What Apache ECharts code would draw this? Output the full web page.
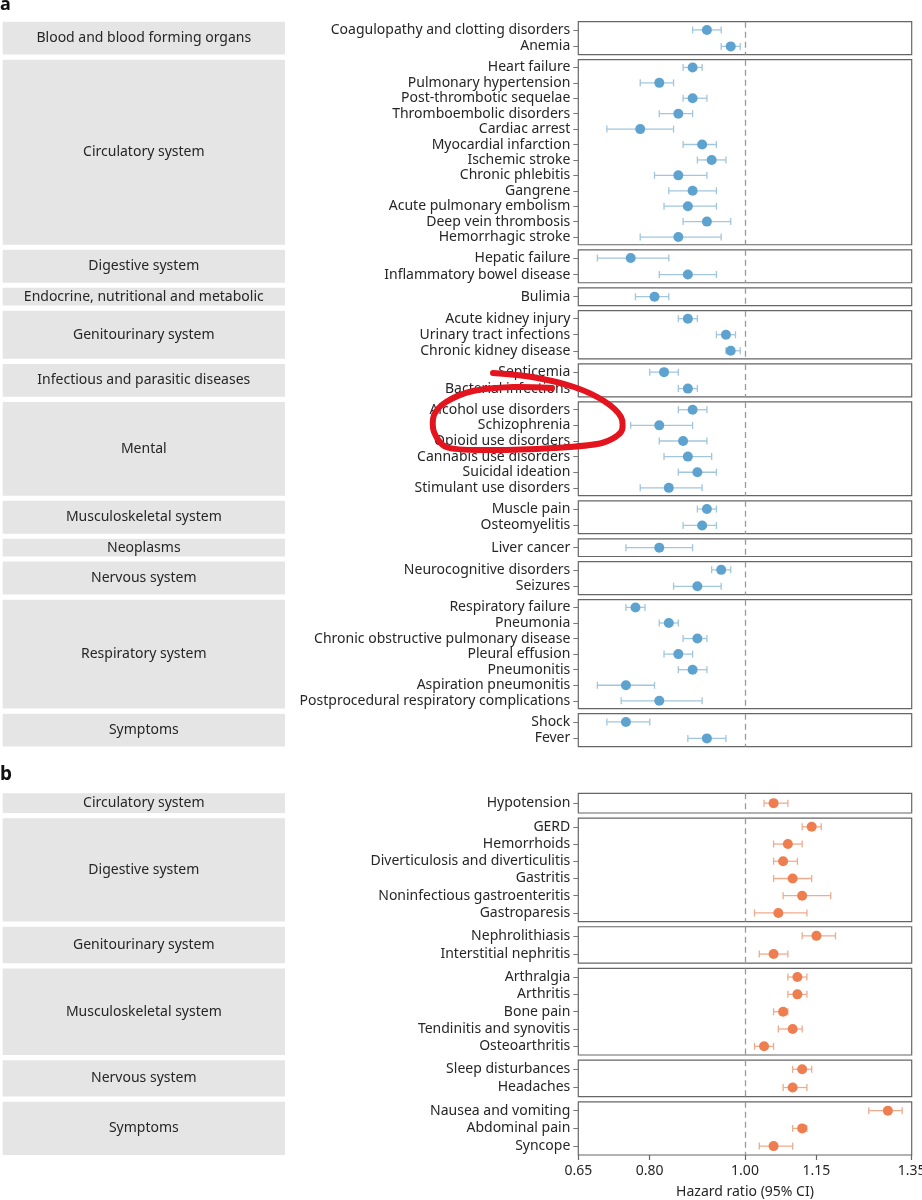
<!DOCTYPE html>
<html>
<head>
<meta charset="utf-8">
<script src="https://cdn.jsdelivr.net/npm/echarts@6/dist/echarts.min.js"></script>
<style>
  html, body { margin: 0; padding: 0; background: #fff; }
  #chart { width: 922px; height: 1200px; }
</style>
</head>
<body>
<div id="chart"></div>
<script>
// x axis
var xMin = 0.65, xMax = 1.35;
var xTicks = [0.65, 0.80, 1.00, 1.15, 1.35];

// panel a
var groupsA = ['Blood and blood forming organs', 'Circulatory system', 'Digestive system',
	'Endocrine, nutritional and metabolic', 'Genitourinary system', 'Infectious and parasitic diseases',
	'Mental', 'Musculoskeletal system', 'Neoplasms', 'Nervous system', 'Respiratory system', 'Symptoms'];
var sizesA = [2, 12, 2, 1, 3, 2, 6, 2, 1, 2, 7, 2];
var labelsA = ['Coagulopathy and clotting disorders', 'Anemia',
	'Heart failure', 'Pulmonary hypertension', 'Post-thrombotic sequelae', 'Thromboembolic disorders',
	'Cardiac arrest', 'Myocardial infarction', 'Ischemic stroke', 'Chronic phlebitis', 'Gangrene',
	'Acute pulmonary embolism', 'Deep vein thrombosis', 'Hemorrhagic stroke',
	'Hepatic failure', 'Inflammatory bowel disease',
	'Bulimia',
	'Acute kidney injury', 'Urinary tract infections', 'Chronic kidney disease',
	'Septicemia', 'Bacterial infections',
	'Alcohol use disorders', 'Schizophrenia', 'Opioid use disorders', 'Cannabis use disorders',
	'Suicidal ideation', 'Stimulant use disorders',
	'Muscle pain', 'Osteomyelitis',
	'Liver cancer',
	'Neurocognitive disorders', 'Seizures',
	'Respiratory failure', 'Pneumonia', 'Chronic obstructive pulmonary disease', 'Pleural effusion',
	'Pneumonitis', 'Aspiration pneumonitis', 'Postprocedural respiratory complications',
	'Shock', 'Fever'];
var hrA = [0.92, 0.97,
	0.89, 0.82, 0.89, 0.86, 0.78, 0.91, 0.93, 0.86, 0.89, 0.88, 0.92, 0.86,
	0.76, 0.88,
	0.81,
	0.88, 0.96, 0.97,
	0.83, 0.88,
	0.89, 0.82, 0.87, 0.88, 0.90, 0.84,
	0.92, 0.91,
	0.82,
	0.95, 0.90,
	0.77, 0.84, 0.90, 0.86, 0.89, 0.75, 0.82,
	0.75, 0.92];
var lowA = [0.89, 0.95,
	0.87, 0.78, 0.87, 0.82, 0.71, 0.87, 0.90, 0.81, 0.84, 0.83, 0.87, 0.78,
	0.69, 0.82,
	0.77,
	0.86, 0.94, 0.96,
	0.80, 0.86,
	0.86, 0.76, 0.82, 0.83, 0.86, 0.78,
	0.90, 0.87,
	0.75,
	0.93, 0.85,
	0.75, 0.82, 0.87, 0.83, 0.86, 0.69, 0.74,
	0.71, 0.88];
var highA = [0.95, 0.99,
	0.91, 0.85, 0.92, 0.89, 0.85, 0.94, 0.96, 0.92, 0.94, 0.94, 0.97, 0.95,
	0.84, 0.94,
	0.84,
	0.90, 0.98, 0.99,
	0.86, 0.90,
	0.92, 0.89, 0.92, 0.93, 0.94, 0.91,
	0.94, 0.94,
	0.89,
	0.97, 0.95,
	0.79, 0.86, 0.92, 0.89, 0.92, 0.81, 0.91,
	0.80, 0.96];

// panel b
var groupsB = ['Circulatory system', 'Digestive system', 'Genitourinary system',
	'Musculoskeletal system', 'Nervous system', 'Symptoms'];
var sizesB = [1, 6, 2, 5, 2, 3];
var labelsB = ['Hypotension',
	'GERD', 'Hemorrhoids', 'Diverticulosis and diverticulitis', 'Gastritis',
	'Noninfectious gastroenteritis', 'Gastroparesis',
	'Nephrolithiasis', 'Interstitial nephritis',
	'Arthralgia', 'Arthritis', 'Bone pain', 'Tendinitis and synovitis', 'Osteoarthritis',
	'Sleep disturbances', 'Headaches',
	'Nausea and vomiting', 'Abdominal pain', 'Syncope'];
var hrB = [1.06,
	1.14, 1.09, 1.08, 1.10, 1.12, 1.07,
	1.15, 1.06,
	1.11, 1.11, 1.08, 1.10, 1.04,
	1.12, 1.10,
	1.30, 1.12, 1.06];
var lowB = [1.04,
	1.12, 1.06, 1.06, 1.06, 1.08, 1.02,
	1.12, 1.03,
	1.09, 1.09, 1.06, 1.07, 1.02,
	1.10, 1.08,
	1.26, 1.10, 1.03];
var highB = [1.09,
	1.16, 1.12, 1.11, 1.14, 1.18, 1.13,
	1.19, 1.09,
	1.13, 1.13, 1.09, 1.12, 1.06,
	1.14, 1.13,
	1.33, 1.13, 1.10];

var FONT = '"Noto Sans", Roboto, sans-serif';
var chart = echarts.init(document.getElementById('chart'));

var grids = [], xAxes = [], yAxes = [], series = [], graphics = [];

function addPanel(groups, sizes, labels, hr, low, high, top0, rowH, pad, gap, dotColor, barColor) {
	var top = top0, start = 0;
	for (var g = 0; g < groups.length; g++) {
		var n = sizes[g];
		var h = n * rowH + pad;
		var gi = grids.length;
		grids.push({
			left: 578.3, width: 333.4, top: top, height: h,
			outerBoundsMode: 'none', containLabel: false,
			show: true, borderColor: '#666', borderWidth: 1.2, backgroundColor: 'transparent'
		});
		xAxes.push({
			type: 'value', gridIndex: gi, min: xMin, max: xMax,
			axisLine: {show: false}, axisTick: {show: false}, axisLabel: {show: false},
			splitLine: {show: false}
		});
		yAxes.push({
			type: 'category', gridIndex: gi, inverse: true,
			data: labels.slice(start, start + n),
			axisLine: {show: false},
			axisTick: {show: true, alignWithLabel: true, length: 5, lineStyle: {color: '#777', width: 1}},
			axisLabel: {interval: 0, fontSize: 14, color: '#262626', margin: 8, fontFamily: FONT},
			splitLine: {show: false}
		});
		var bars = [], dots = [];
		for (var i = 0; i < n; i++) {
			bars.push([low[start + i], i, high[start + i]]);
			dots.push([hr[start + i], i]);
		}
		series.push({
			type: 'custom', xAxisIndex: gi, yAxisIndex: gi, silent: true,
			encode: {x: [0, 2], y: 1},
			data: bars,
			renderItem: (function (color) {
				return function (params, api) {
					var a = api.coord([api.value(0), api.value(1)]);
					var b = api.coord([api.value(2), api.value(1)]);
					var cap = 3.5;
					var st = {stroke: color, lineWidth: 1.3};
					return {
						type: 'group', children: [
							{type: 'line', shape: {x1: a[0], y1: a[1], x2: b[0], y2: b[1]}, style: st},
							{type: 'line', shape: {x1: a[0], y1: a[1] - cap, x2: a[0], y2: a[1] + cap}, style: st},
							{type: 'line', shape: {x1: b[0], y1: b[1] - cap, x2: b[0], y2: b[1] + cap}, style: st}
						]
					};
				};
			})(barColor)
		});
		series.push({
			type: 'scatter', xAxisIndex: gi, yAxisIndex: gi, silent: true,
			symbolSize: 10, itemStyle: {color: dotColor, opacity: 1},
			data: dots,
			markLine: {
				silent: true, symbol: 'none', animation: false,
				label: {show: false},
				lineStyle: {type: [6, 4], color: '#9a9a9a', width: 1.3},
				data: [{xAxis: 1}]
			}
		});
		graphics.push({
			type: 'rect', left: 2.7, top: top,
			shape: {width: 282.3, height: h},
			style: {fill: '#e5e5e5'}, z: 0
		});
		graphics.push({
			type: 'text', x: 143.8, y: top + h / 2,
			style: {text: groups[g], fill: '#262626', fontSize: 14, fontFamily: FONT, align: 'center', verticalAlign: 'middle'},
			z: 1
		});
		top += h + gap;
		start += n;
	}
}

addPanel(groupsA, sizesA, labelsA, hrA, lowA, highA, 21.7, 15.21, 2.5, 5.1, '#5ea3cf', '#a2c6dc');
addPanel(groupsB, sizesB, labelsB, hrB, lowB, highB, 793.3, 16.72, 3, 5.2, '#ee7e50', '#eeab8e');

// bottom axis on the last grid
var last = xAxes[xAxes.length - 1];
last.axisTick = {show: true, customValues: xTicks, length: 5, lineStyle: {color: '#666', width: 1.2}};
last.axisLabel = {
	show: true, customValues: xTicks, fontSize: 14, color: '#262626', margin: 9, fontFamily: FONT,
	formatter: function (v) { return v.toFixed(2); }
};
last.name = 'Hazard ratio (95% CI)';
last.nameLocation = 'middle';
last.nameGap = 30;
last.nameTextStyle = {fontSize: 14, color: '#262626', fontFamily: FONT};

// panel letters
graphics.push({type: 'text', x: 0, y: 5, style: {text: 'a', fill: '#111', fontSize: 18, fontWeight: 'bold', fontFamily: FONT, verticalAlign: 'middle'}});
graphics.push({type: 'text', x: 0, y: 775, style: {text: 'b', fill: '#111', fontSize: 19, fontWeight: 'bold', fontFamily: FONT, verticalAlign: 'middle'}});

// hand-drawn red loop over the reference
graphics.push({
	type: 'polyline', z: 100, silent: true,
	shape: {
		smooth: 0.3,
		points: [[493, 373], [532, 377], [574, 387], [604, 401], [621, 417], [621, 432], [602, 443],
			[553, 448], [487, 450], [446, 447], [434, 432], [434, 415], [446, 402], [473, 391],
			[513, 387], [552, 388]]
	},
	style: {stroke: '#e3141d', lineWidth: 6, fill: null, lineCap: 'round', lineJoin: 'round'}
});

chart.setOption({
	animation: false,
	textStyle: {fontFamily: FONT},
	grid: grids,
	xAxis: xAxes,
	yAxis: yAxes,
	series: series,
	graphic: graphics
});
</script>
</body>
</html>
